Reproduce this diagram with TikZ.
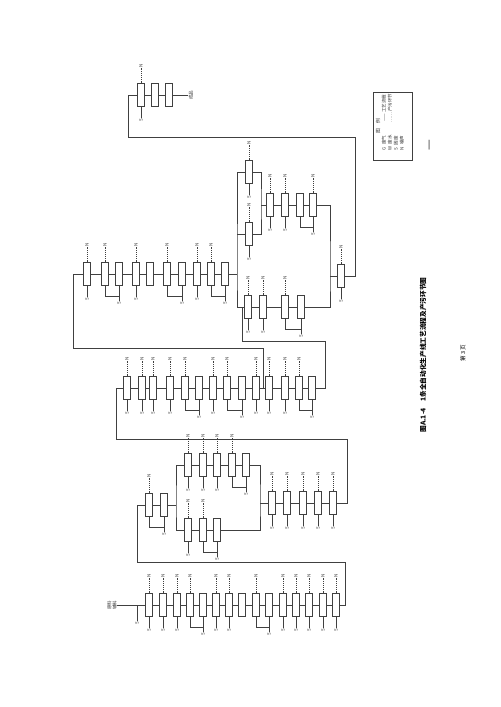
\documentclass[tikz,border=0pt]{standalone}
\usepackage{fontspec}
\newfontfamily\cjk{Noto Sans CJK SC}
\usetikzlibrary{calc}

\tikzset{
  unitbox/.style={draw=black!75, line width=0.6pt, fill=white, minimum width=5.25pt, minimum height=17pt, inner sep=0pt},
  flow/.style={draw=black!75, line width=0.6pt},
  emission/.style={draw=black!75, line width=0.6pt, dash pattern=on 0.6pt off 0.8pt},
  waste/.style={draw=black!75, line width=0.6pt},
  tag/.style={font=\cjk\fontsize{3.4}{3.8}\selectfont, text=black!80, inner sep=0.4pt, rotate=90},
}

\begin{document}
\begin{tikzpicture}[x=0.75pt,y=0.75pt,yscale=-1,xscale=1]
\useasboundingbox (0,0) rectangle (500,707);

% process units, row by row
\foreach \x [count=\i] in {141,155,169} \node[unitbox] (A\i) at (\x,95) {};
\foreach \x [count=\i] in {87,105,119,136,150,167,182,197,211,225} \node[unitbox] (B\i) at (\x,274) {};
\foreach \x [count=\i] in {127,142,153,170,185,199,213,227,242,256,269,285,299,312} \node[unitbox] (C\i) at (\x,388) {};
\foreach \x [count=\i] in {149,164} \node[unitbox] (D1\i) at (\x,505) {};
\foreach \x [count=\i] in {188,203,217,232,246} \node[unitbox] (D2\i) at (\x,465) {};
\foreach \x [count=\i] in {188,203,217} \node[unitbox] (D3\i) at (\x,530) {};
\foreach \x [count=\i] in {272,287,303,318,333} \node[unitbox] (D4\i) at (\x,503) {};
\foreach \x [count=\i] in {149,163,177,190,203,216,229,242,256,269,283,296,309,323,336} \node[unitbox] (E\i) at (\x,605) {};
\node[unitbox] (F1) at (249,172) {};
\node[unitbox] (F2) at (249,234) {};
\foreach \x [count=\i] in {270,285,300,313} \node[unitbox] (F3\i) at (\x,205) {};
\foreach \x [count=\i] in {248,263,285,301} \node[unitbox] (F4\i) at (\x,307) {};
\node[unitbox] (F5) at (341,276) {};

% links inside each row
\foreach \r/\n in {A/3,B/10,C/14,D1/2,D2/5,D3/3,D4/5,E/15,F3/4,F4/4} {
  \foreach \i in {2,...,\n} {
    \pgfmathtruncatemacro{\k}{\i-1}
    \draw[flow] (\r\k) -- (\r\i);
  }
}

% emissions (dotted, up)
\foreach \n in {A1,B1,B2,B4,B6,B8,B9,C1,C2,C3,C4,C5,C7,C8,C10,C11,C12,C13,F1,F2,F31,F32,F34,F41,F42,F43,F5,D11,D21,D22,D23,D24,D31,D32,D41,D42,D43,D44,D45,E1,E2,E3,E4,E6,E7,E9,E11,E12,E13,E14,E15} {
  \node[tag,anchor=west] (g\n) at ($(\n.north)+(0,-15)$) {N};
  \draw[emission] (\n.north) -- (g\n.west);
}

% solid waste (down)
\foreach \n in {A1,B1,B4,B8,C1,C2,C3,C4,C7,C10,C11,C12,F1,F2,F31,F32,F41,F42,F5,D21,D22,D23,D31,D41,D42,D43,D44,D45,E1,E2,E3,E6,E7,E11,E12,E13,E14,E15} {
  \node[tag,anchor=east] (s\n) at ($(\n.south)+(0,11)$) {S};
  \draw[waste] (\n.south) -- (s\n.east);
}

% return loops between paired units
\foreach \a/\b in {B2/B3,B6/B7,B9/B10,C5/C6,C8/C9,C13/C14,F33/F34,F43/F44,D11/D12,D24/D25,D32/D33,E4/E5,E9/E10} {
  \draw[flow] (\a.south) -- ++(0,11) -| (\b.south);
  \node[tag,anchor=east] (s\b) at ($(\b.south)+(0,15)$) {S};
  \draw[waste] (\b.south) -- (s\b.east);
}

% feed and product
\node[tag,align=center] (feed) at (112,605) {原料\\辅料};
\draw[flow] (feed) -- (E1);
\coordinate (ej) at (137,605);
\node[tag,anchor=east] (sej) at (137,621) {S};
\draw[waste] (ej) -- (sej.east);
\node[tag] (prod) at (191,95) {成品};
\draw[flow] (A3) -- (prod);

% row E up to group D
\coordinate (dl) at (137,562);
\coordinate (dr) at (345,562);
\draw[flow] (D11.west) -| (dl) -- (dr) |- (E15.east);
\coordinate (dm) at (176,505);
\draw[flow] (D12) -- (dm);
\draw[flow] (D21.west) -| (dm) |- (D31.west);
\coordinate (dn) at (260,503);
\draw[flow] (D25.east) -| (dn) |- (D33.east);
\draw[flow] (dn) -- (D41);

% group D up to row C
\coordinate (cl) at (116,439);
\coordinate (cr) at (347,439);
\draw[flow] (C1.west) -| (cl) -- (cr) |- (D45.east);

% row C to row B and group F
\coordinate (bl) at (73,348);
\coordinate (br) at (263,348);
\draw[flow] (B1.west) -| (bl) -- (br) -- (br |- C1);
\coordinate (fd) at (242,341);
\coordinate (fe) at (325,341);
\draw[flow] (F41.west -| fd) -- (fd) -- (fe) |- (C14.east);

% group F
\coordinate (fl) at (237,274);
\draw[flow] (F1.west) -| (fl) |- (F41.west);
\draw[flow] (F2.west) -- (F2.west -| fl);
\draw[flow] (B10) -- (fl);
\coordinate (fm) at (261,205);
\draw[flow] (F1.east) -| (fm) |- (F2.east);
\draw[flow] (fm) -- (F31);
\coordinate (fr) at (330,276);
\draw[flow] (F34.east) -| (fr) |- (F44.east);
\draw[flow] (fr) -- (F5);

% group F to row A
\coordinate (ka) at (128,137);
\coordinate (kb) at (355,137);
\draw[flow] (A1.west) -| (ka) -- (kb) |- (F5.east);

% legend
\draw[flow] (373,92) rectangle (412,160);
\node[tag,font=\cjk\fontsize{3.6}{4}\selectfont] (lgd) at (378,126) {图\quad 例};
\foreach \x/\t [count=\i] in {384/G\enspace 废气,390/W\enspace 废水,396/S\enspace 固废,402/N\enspace 噪声}
  \node[tag] (lg\i) at (\x,143) {\t};
\node[tag] (lgl) at (384,108) {—— 工艺流程};
\node[tag] (lgp) at (390,108) {…… 产污环节};

% caption and page
\node[rotate=90,font=\cjk\bfseries\fontsize{5}{6}\selectfont] (title) at (423,355) {图A.1-4\quad 1条全自动化生产线工艺流程及产污环节图};
\node[rotate=90,font=\cjk\fontsize{4.2}{5}\selectfont] (page) at (463,353) {第 3 页};
\node[rotate=90,font=\cjk\fontsize{8}{9}\selectfont,text=black!70] (mark) at (431,145) {一};

\end{tikzpicture}
\end{document}
